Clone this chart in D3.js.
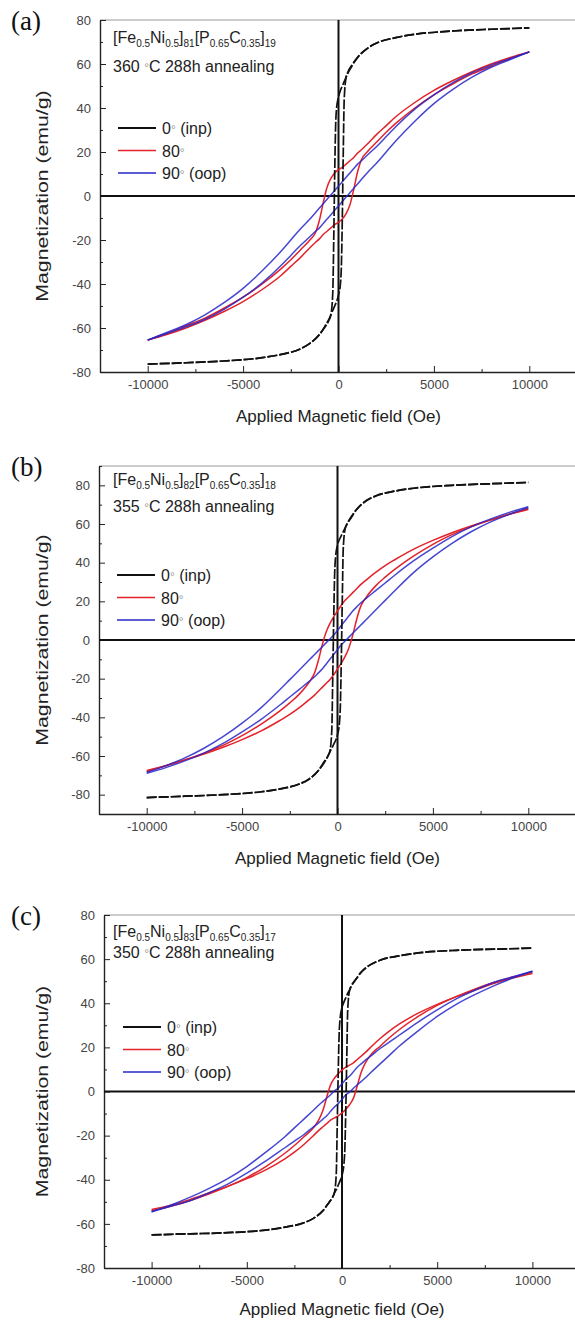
<!doctype html>
<html lang="en">
<head>
<meta charset="utf-8">
<title>Hysteresis loops</title>
<script src="https://cdn.jsdelivr.net/npm/d3@7"></script>
<style>
  body { margin: 0; background: #fff; }
  text { font-family: Arial, "Liberation Sans", sans-serif; }
</style>
</head>
<body>
<svg width="575" height="1322"></svg>
<script>
// field grids (Oe)
var fieldFine = [-10000,-8000,-6000,-4000,-3000,-2000,-1500,-1000,-700,-500,-400,-300,-250,-200,-150,-100,0,100,150,200,250,300,400,500,700,1000,1500,2000,3000,4000,6000,8000,10000];
var fieldSoft = [-10000,-9000,-8000,-7000,-6000,-5000,-4000,-3000,-2500,-2000,-1500,-1200,-1000,-800,-600,-400,-200,0,200,400,600,800,1000,1200,1500,2000,2500,3000,4000,5000,6000,7000,8000,9000,10000];

// (a) 360 C
var inpDownA = [-76.4,-75.8,-75,-73.5,-72,-69.5,-67,-63,-59.5,-56.5,-54,-44,-20,10,32,40,45,48,49,50,51,52,54,56,59,63,67,69.5,72,73.5,75,75.8,76.4];
var inpUpA   = [-76.4,-75.8,-75,-73.5,-72,-69.5,-67,-63,-59,-56,-54,-52,-51,-50,-49,-48,-45,-40,-32,-10,20,44,54,56.5,59.5,63,67,69.5,72,73.5,75,75.8,76.4];
var d80UpA   = [-65.5,-63,-60,-56.5,-52.5,-48,-42.5,-36,-32,-28,-23.5,-21,-19.5,-17.5,-16,-14.5,-13,-12,-10.5,-8,-4,3,11,16.5,20,24.5,29,33,40,46,51,55.5,59,62.5,65.5];
var d80DownA = [-65.5,-62.5,-59,-55.5,-51,-46,-40,-33,-29,-24.5,-20,-16.5,-11,-3,4,8,10.5,12,13,14.5,16,17.5,19.5,21,23.5,28,32,36,42.5,48,52.5,56.5,60,63,65.5];
var oopUpA   = [-65.5,-62.5,-59.5,-56,-51.5,-46,-39.5,-31.5,-27,-22.5,-18.5,-16,-14.5,-12.5,-10.5,-8.5,-6.5,-4.5,-2.5,-0.5,1.5,3.5,5.5,7.5,10.5,15,20,25,34,42,48.5,54,58.5,62,65.5];
var oopDownA = [-65.5,-62,-58.5,-54,-48.5,-42,-34,-25,-20,-15,-10.5,-7.5,-5.5,-3.5,-1.5,0.5,2.5,4.5,6.5,8.5,10.5,12.5,14.5,16,18.5,22.5,27,31.5,39.5,46,51.5,56,59.5,62.5,65.5];

// (b) 355 C
var inpDownB = [-81.5,-80.8,-80,-78.5,-77,-74.5,-72,-67.5,-63.5,-60,-57.5,-47,-20,10,34,43,49,52,53,54,55,56,58,60,63,67.5,72,74.5,77,78.5,80,80.8,81.5];
var inpUpB   = [-81.5,-80.8,-80,-78.5,-77,-74.5,-72,-67.5,-63,-60,-58,-56,-55,-54,-53,-52,-49,-43,-34,-10,20,47,57.5,60,63.5,67.5,72,74.5,77,78.5,80,80.8,81.5];
var d80UpB   = [-67.5,-65,-62,-59,-55.5,-51.5,-47,-41.5,-38.5,-35,-31,-28.5,-26.5,-24.5,-22.5,-20.5,-18,-15,-12,-8.5,-4,2.5,10.5,17,22,28,32.5,36.5,43.5,49.5,54.5,58.5,62,65,68];
var d80DownB = [-68,-65,-62,-58.5,-54.5,-49.5,-43.5,-36.5,-32.5,-28,-22,-17,-10.5,-2.5,4,8.5,12,15,18,20.5,22.5,24.5,26.5,28.5,31,35,38.5,41.5,47,51.5,55.5,59,62,65,67.5];
var oopUpB   = [-69,-66,-62.5,-58.5,-53.5,-47.5,-41,-33.5,-29.5,-25.5,-21.5,-19,-17,-15,-12.5,-10,-7.5,-5,-2.5,-0.5,1.5,3.5,5.5,7.5,10.5,15.5,20.5,25.5,35,43,50,56,61,65,68.5];
var oopDownB = [-68.5,-65,-61,-56,-50,-43,-35,-25.5,-20.5,-15.5,-10.5,-7.5,-5.5,-3.5,-1.5,0.5,2.5,5,7.5,10,12.5,15,17,19,21.5,25.5,29.5,33.5,41,47.5,53.5,58.5,62.5,66,69];

// (c) 350 C
var inpDownC = [-65,-64.5,-64,-62.8,-61.5,-59.5,-57.5,-54,-50.5,-48,-46,-37,-15,8,26,33,38,40.5,41.5,42.5,43.5,44.5,46,48,50.5,54,57.5,59.5,61.5,62.8,64,64.5,65];
var inpUpC   = [-65,-64.5,-64,-62.8,-61.5,-59.5,-57.5,-54,-50.5,-48,-46,-44.5,-43.5,-42.5,-41.5,-40.5,-38,-33,-26,-8,15,37,46,48,50.5,54,57.5,59.5,61.5,62.8,64,64.5,65];
var d80UpC   = [-53.5,-51.5,-49,-46,-43,-39.5,-35.5,-30.5,-27.5,-24,-20,-17.5,-16,-14.5,-13,-12,-11,-9.7,-8,-6,-3,2.5,8.5,12.5,16.5,20.5,24.5,28,34,39,43,46.5,49.5,52,54];
var d80DownC = [-54,-52,-49.5,-46.5,-43,-39,-34,-28,-24.5,-20.5,-16.5,-12.5,-8.5,-2.5,3,6,8,9.7,11,12,13,14.5,16,17.5,20,24,27.5,30.5,35.5,39.5,43,46,49,51.5,53.5];
var oopUpC   = [-54.5,-52,-49.5,-46,-42,-37,-31.5,-25.5,-22.5,-19.5,-16,-14,-12.5,-11,-9,-7,-5.5,-3.5,-1.5,-0.3,1.5,3,4.5,6,8.5,12.5,16.5,20.5,27.5,34,39.5,44,48,51.5,54.5];
var oopDownC = [-54.5,-51.5,-48,-44,-39.5,-34,-27.5,-20.5,-16.5,-12.5,-8.5,-6,-4.5,-3,-1.5,0.3,1.5,3.5,5.5,7,9,11,12.5,14,16,19.5,22.5,25.5,31.5,37,42,46,49.5,52,54.5];

var xTicks = [-10000, -5000, 0, 5000, 10000];
var xMinor = [-7500, -2500, 2500, 7500];
var seriesNames = ['0\u00b0 (inp)', '80\u00b0', '90\u00b0 (oop)'];
var seriesColors = ['#111111', '#e3222a', '#2626c8'];

var panels = [
  { letter: '(a)', n1: '81', n2: '19', temp: '360', yMax: 80,
    left: 100, right: 577, top: 20, bottom: 372, noteY: [43, 72], legY: 128, legX: 118,
    curves: [[inpDownA, inpUpA], [d80DownA, d80UpA], [oopDownA, oopUpA]] },
  { letter: '(b)', n1: '82', n2: '18', temp: '355', yMax: 90,
    left: 99, right: 576, top: 466, bottom: 814, noteY: [485, 512], legY: 575, legX: 117,
    curves: [[inpDownB, inpUpB], [d80DownB, d80UpB], [oopDownB, oopUpB]] },
  { letter: '(c)', n1: '83', n2: '17', temp: '350', yMax: 80,
    left: 104, right: 580, top: 915, bottom: 1268, noteY: [937, 958], legY: 1027, legX: 123,
    curves: [[inpDownC, inpUpC], [d80DownC, d80UpC], [oopDownC, oopUpC]] }
];

var svg = d3.select('svg');

function drawPanel(p) {
  var x = d3.scaleLinear().domain([-12500, 12500]).range([p.left, p.right]);
  var y = d3.scaleLinear().domain([-p.yMax, p.yMax]).range([p.bottom, p.top]);
  var g = svg.append('g');

  var yMajor = d3.range(-80, 81, 20);
  var yMinor = d3.range(-p.yMax + (p.yMax % 20 === 0 ? 10 : 0), p.yMax + 1, 20);

  // top frame line
  g.append('line')
    .attr('x1', p.left).attr('x2', p.right + 5)
    .attr('y1', p.top).attr('y2', p.top)
    .style('stroke', '#999').style('stroke-width', 1);

  var fmt = function(d) { return String(d); };

  g.append('g').attr('transform', 'translate(' + p.left + ',0)')
    .call(d3.axisLeft(y).tickValues(yMajor).tickSizeInner(-6).tickSizeOuter(0).tickPadding(9).tickFormat(fmt));
  g.append('g').attr('transform', 'translate(' + p.left + ',0)')
    .call(d3.axisLeft(y).tickValues(yMinor).tickSize(-3).tickFormat(''))
    .select('.domain').remove();

  g.append('g').attr('transform', 'translate(0,' + p.bottom + ')')
    .call(d3.axisBottom(x).tickValues(xTicks).tickSizeInner(-6).tickSizeOuter(0).tickPadding(8).tickFormat(fmt));
  g.append('g').attr('transform', 'translate(0,' + p.bottom + ')')
    .call(d3.axisBottom(x).tickValues(xMinor).tickSize(-3).tickFormat(''))
    .select('.domain').remove();

  g.selectAll('.domain').style('stroke', '#222').style('stroke-width', 1.4);
  g.selectAll('.tick line').style('stroke', '#222');
  g.selectAll('.tick text').style('font-size', '13px').style('fill', '#444')
    .style('font-family', 'Arial, "Liberation Sans", sans-serif');

  // zero lines
  g.append('line').attr('x1', p.left).attr('x2', p.right + 5)
    .attr('y1', y(0)).attr('y2', y(0)).style('stroke', '#111').style('stroke-width', 2);
  g.append('line').attr('x1', x(0)).attr('x2', x(0))
    .attr('y1', p.top).attr('y2', p.bottom).style('stroke', '#111').style('stroke-width', 2);

  // loops
  [1, 2, 0].forEach(function(k) {
    p.curves[k].forEach(function(branch) {
      var grid = branch.length === fieldFine.length ? fieldFine : fieldSoft;
      var line = d3.line()
        .x(function(d, i) { return x(grid[i]); })
        .y(function(d) { return y(d); })
        .curve(d3.curveMonotoneX);
      g.append('path')
        .datum(branch)
        .attr('d', line)
        .style('fill', 'none')
        .style('stroke', seriesColors[k])
        .style('stroke-width', k === 0 ? 1.7 : 1.5)
        .style('stroke-opacity', k === 2 ? 0.85 : 1)
        .style('stroke-dasharray', k === 0 ? '10,2' : null);
    });
  });

  // axis titles
  g.append('text')
    .attr('x', x(0)).attr('y', Math.min(p.bottom + 50, 1315))
    .attr('text-anchor', 'middle')
    .style('font-size', '17px').style('fill', '#222')
    .text('Applied Magnetic field (Oe)');
  g.append('text')
    .attr('transform', 'translate(48,' + y(0) + ') rotate(-90) scale(1.25,1)')
    .attr('text-anchor', 'middle')
    .style('font-size', '17px').style('fill', '#222')
    .text('Magnetization (emu/g)');

  // panel letter
  g.append('text')
    .attr('x', 11).attr('y', p.top + 10)
    .style('font-family', '"Liberation Serif", "Times New Roman", serif')
    .style('font-size', '27px').style('fill', '#111')
    .text(p.letter);

  // composition note
  var note = g.append('text')
    .attr('x', 113).attr('y', p.noteY[0])
    .style('font-size', '16px').style('fill', '#222');
  var parts = [['[Fe', 0], ['0.5', 1], ['Ni', 0], ['0.5', 1], [']', 0], [p.n1, 1],
               ['[P', 0], ['0.65', 1], ['C', 0], ['0.35', 1], [']', 0], [p.n2, 1]];
  var low = false;
  parts.forEach(function(pt) {
    var t = note.append('tspan').text(pt[0]);
    if (pt[1] && !low) { t.attr('dy', 4).style('font-size', '10px'); low = true; }
    else if (pt[1]) { t.style('font-size', '10px'); }
    else if (low) { t.attr('dy', -4); low = false; }
  });

  var l2 = g.append('text')
    .attr('x', 113).attr('y', p.noteY[1])
    .style('font-size', '16px').style('fill', '#222');
  l2.append('tspan').text(p.temp + ' ');
  l2.append('tspan').text('\u00b0').style('fill', '#999').style('font-size', '12px');
  l2.append('tspan').text('C 288h annealing');

  // legend
  seriesNames.forEach(function(name, k) {
    var ly = p.legY + k * 22.5;
    g.append('line')
      .attr('x1', p.legX).attr('x2', p.legX + 38)
      .attr('y1', ly).attr('y2', ly)
      .style('stroke', seriesColors[k]).style('stroke-width', k === 0 ? 1.8 : 1.4);
    var t = g.append('text')
      .attr('x', p.legX + 44).attr('y', ly + 6)
      .style('font-size', '16px').style('fill', '#222');
    var bits = name.split('\u00b0');
    t.append('tspan').text(bits[0]);
    t.append('tspan').text('\u00b0').style('fill', '#999').style('font-size', '12px');
    t.append('tspan').text(bits[1]);
  });
}

panels.forEach(drawPanel);
</script>
</body>
</html>
